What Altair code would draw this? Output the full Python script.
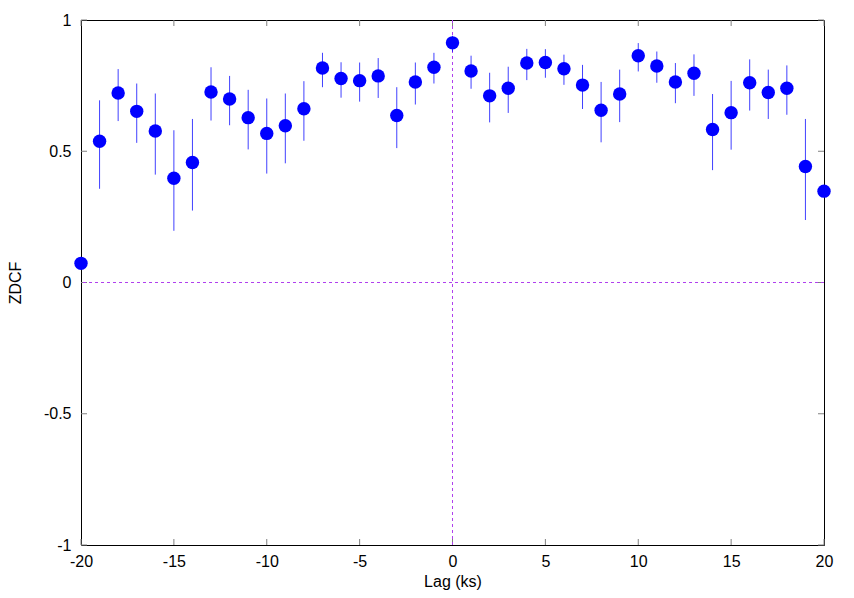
import altair as alt
import pandas as pd

lags = list(range(-20, 21))
zdcf = [0.073, 0.538, 0.722, 0.652, 0.577, 0.397, 0.457, 0.726, 0.699, 0.628,
        0.568, 0.597, 0.662, 0.817, 0.777, 0.769, 0.787, 0.636, 0.764, 0.820,
        0.913, 0.806, 0.711, 0.740, 0.836, 0.838, 0.814, 0.752, 0.656, 0.718,
        0.864, 0.825, 0.764, 0.797, 0.583, 0.647, 0.761, 0.724, 0.740, 0.442,
        0.348]
err_hi = [0.073, 0.694, 0.813, 0.758, 0.720, 0.580, 0.623, 0.820, 0.787, 0.734,
          0.701, 0.720, 0.767, 0.875, 0.839, 0.838, 0.855, 0.744, 0.838, 0.875,
          0.940, 0.864, 0.799, 0.822, 0.890, 0.889, 0.868, 0.829, 0.764, 0.811,
          0.912, 0.880, 0.836, 0.869, 0.718, 0.768, 0.850, 0.811, 0.827, 0.623,
          0.348]
err_lo = [0.073, 0.357, 0.615, 0.532, 0.411, 0.197, 0.274, 0.617, 0.599, 0.507,
          0.415, 0.454, 0.540, 0.744, 0.704, 0.689, 0.703, 0.512, 0.678, 0.758,
          0.879, 0.738, 0.610, 0.646, 0.771, 0.780, 0.753, 0.661, 0.534, 0.611,
          0.804, 0.761, 0.683, 0.711, 0.428, 0.506, 0.655, 0.623, 0.639, 0.238,
          0.348]
x_ticks = [-20, -15, -10, -5, 0, 5, 10, 15, 20]
y_ticks = [-1, -0.5, 0, 0.5, 1]

df = pd.DataFrame({"lag": lags, "zdcf": zdcf, "lo": err_lo, "hi": err_hi})
zero = pd.DataFrame({"v": [0]})
xt = pd.DataFrame({"t": x_ticks})
yt = pd.DataFrame({"t": y_ticks})

W, H = 743, 525
TL = 6
TICK = "#808080"
FONT = "Liberation Sans"
xs = alt.Scale(domain=[-20, 20], nice=False, zero=False)
ys = alt.Scale(domain=[-1, 1], nice=False, zero=False)

x_axis = alt.Axis(values=x_ticks, ticks=False, domain=False, grid=False,
                  labelPadding=8, labelFlush=False, labelOverlap=False,
                  labelExpr="toString(datum.value)", title="Lag (ks)",
                  titlePadding=4)
y_axis = alt.Axis(values=y_ticks, ticks=False, domain=False, grid=False,
                  labelPadding=10, labelFlush=False, labelOverlap=False,
                  labelExpr="toString(datum.value)", title="ZDCF",
                  titlePadding=20)

# inward tick marks on all four sides
xt_bot = alt.Chart(xt).mark_rule(color=TICK, strokeWidth=1).encode(
    x=alt.X("t:Q", scale=xs, axis=x_axis), y=alt.value(H), y2=alt.value(H - TL))
xt_top = alt.Chart(xt).mark_rule(color=TICK, strokeWidth=1).encode(
    x=alt.X("t:Q", scale=xs, axis=x_axis), y=alt.value(0), y2=alt.value(TL))
yt_left = alt.Chart(yt).mark_rule(color=TICK, strokeWidth=1).encode(
    y=alt.Y("t:Q", scale=ys, axis=y_axis), x=alt.value(0), x2=alt.value(TL))
yt_right = alt.Chart(yt).mark_rule(color=TICK, strokeWidth=1).encode(
    y=alt.Y("t:Q", scale=ys, axis=y_axis), x=alt.value(W), x2=alt.value(W - TL))

hline = alt.Chart(zero).mark_rule(color="#b040ee", strokeDash=[3, 3], strokeWidth=1).encode(
    y=alt.Y("v:Q", scale=ys, axis=y_axis)
)
vline = alt.Chart(zero).mark_rule(color="#b040ee", strokeDash=[3, 3], strokeWidth=1).encode(
    x=alt.X("v:Q", scale=xs, axis=x_axis)
)
errbars = alt.Chart(df).mark_rule(color="#0000ff", strokeWidth=1, opacity=0.75).encode(
    x=alt.X("lag:Q", scale=xs, axis=x_axis),
    y=alt.Y("lo:Q", scale=ys, axis=y_axis),
    y2="hi:Q",
)
points = alt.Chart(df).mark_circle(color="#0000ff", size=180, opacity=1, clip=False).encode(
    x=alt.X("lag:Q", scale=xs, axis=x_axis),
    y=alt.Y("zdcf:Q", scale=ys, axis=y_axis),
)

chart = alt.layer(xt_bot, xt_top, yt_left, yt_right, hline, vline, errbars, points).properties(
    width=W, height=H,
    autosize=alt.AutoSizeParams(type="none"),
    padding={"left": 73, "top": 12, "right": 20, "bottom": 45},
).configure_view(
    stroke="black", strokeWidth=1
).configure_axis(
    labelFont=FONT, titleFont=FONT, labelFontSize=16, titleFontSize=16,
    labelColor="black", titleColor="black", titleFontWeight="normal",
)

chart.save("out.html", embed_options={"renderer": "svg", "actions": False})
